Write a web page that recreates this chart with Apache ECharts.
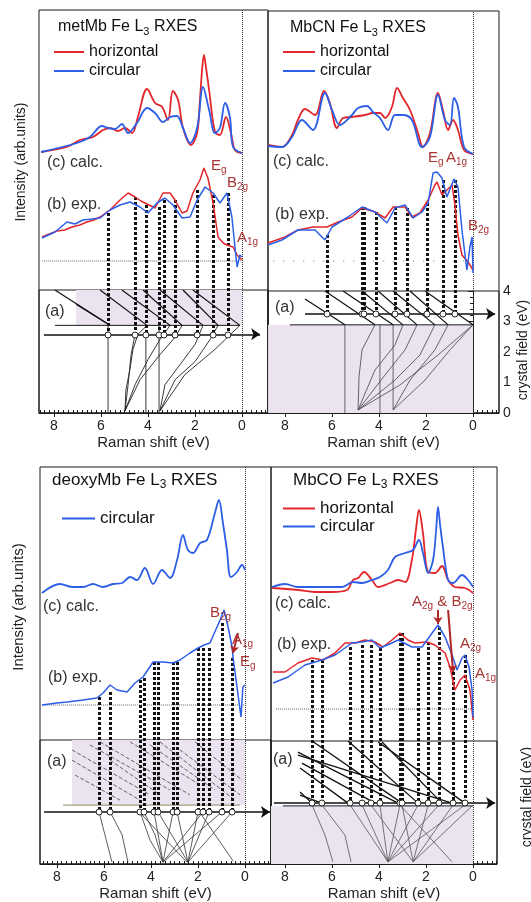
<!DOCTYPE html>
<html><head><meta charset="utf-8">
<script src="https://cdn.jsdelivr.net/npm/echarts@6/dist/echarts.min.js"></script>
<style>html,body{margin:0;padding:0;background:#fff}#c{width:531px;height:902px}</style>
</head><body><div id="c"></div>
<script>
// ================= DATA =================
const ramanTicks = [0, 2, 4, 6, 8];

// ---- metMb (top-left) : [Raman shift eV, intensity arb] ----
const metMb_calc_h = [[8.55,261],[7.45,266],[6.89,273],[6.34,276],[5.91,283],[5.62,285],[5.28,282],[4.98,285],[4.68,280],[4.43,296],[4.04,324],[3.70,310],[3.40,306],[3.15,293],[2.94,322],[2.72,313],[2.51,285],[2.17,268],[1.91,280],[1.79,313],[1.70,343],[1.62,358],[1.53,345],[1.40,323],[1.15,281],[0.94,278],[0.68,296],[0.47,280],[0.30,263],[0,260]];
const metMb_calc_c = [[8.55,261],[7.02,270],[6.47,276],[5.96,287],[5.70,285],[5.40,284],[5.11,289],[4.85,280],[4.47,290],[4.04,305],[3.70,300],[3.36,291],[3.06,296],[2.77,297],[2.51,285],[2.21,270],[1.91,285],[1.66,326],[1.40,303],[1.15,280],[0.94,285],[0.72,310],[0.51,295],[0.38,266],[0,260]];
const metMb_exp_h = [[8.51,176],[8.2,179],[7.87,182],[7.55,183],[7.23,186],[6.9,188],[6.60,191],[6.3,193],[6.04,196],[5.62,203],[5.19,213],[4.85,220],[4.55,216],[4.3,212],[4.04,209],[3.70,205],[3.36,220],[3.06,220],[2.85,213],[2.55,200],[2.34,202],[2.09,220],[1.79,233],[1.62,245],[1.45,235],[1.23,210],[1.02,176],[0.8,170],[0.64,168],[0.38,166],[0.21,158],[0,153]];
const metMb_exp_c = [[8.51,175],[7.96,181],[7.45,191],[7.11,189],[6.77,193],[6.38,194],[6.04,195],[5.62,203],[5.19,208],[4.77,211],[4.34,206],[4.00,200],[3.62,210],[3.28,215],[2.94,208],[2.55,195],[2.21,196],[1.91,213],[1.57,226],[1.23,220],[0.94,210],[0.64,220],[0.43,196],[0.30,166],[0.21,146],[0.09,158],[0,156]];
const metMb_baseline = [[8.5,152],[0,152]];
const metMb_drops = [[5.70,200],[4.55,216],[4.09,208],[3.53,206],[3.32,213],[2.85,213],[1.91,223],[1.23,218],[0.60,220]];
const metMb_dropBase = 78;
// diagram (a): [Raman shift eV, crystal field eV]
const metMb_arrow = [[8.43,2.56],[-0.77,2.56]];
const metMb_level = [[7.96,2.85],[0.09,2.85]];
const metMb_shade = [[7.06,2.85],[0,4]];
const metMb_upper = [
 [[7.96,4.0],[5.62,2.85]], [[7.06,3.54],[5.62,2.85]], [[6.04,4.0],[4.04,2.85]], [[5.11,4.0],[3.06,2.85]],
 [[4.21,4.0],[2.55,2.85]], [[3.49,4.0],[1.66,2.85]], [[2.51,4.0],[1.02,2.85]], [[2.09,4.0],[0.09,2.85]]
];
const metMb_lower = [
 [[5.70,2.85],[5.70,0]], [[4.09,2.56],[4.09,0]], [[3.53,2.85],[3.53,0]],
 [[4.98,0.07],[4.94,0.75],[4.77,1.41],[4.64,2.07],[4.43,2.56],[4.04,2.85]],
 [[4.98,0.07],[4.55,0.92],[4.0,1.74],[3.49,2.39],[3.06,2.85]],
 [[4.98,0.07],[4.34,1.08],[3.49,1.90],[2.85,2.46],[2.55,2.85]],
 [[3.49,0.07],[3.28,0.92],[2.64,1.57],[2.0,2.23],[1.66,2.85]],
 [[3.49,0.07],[2.85,1.08],[2.0,1.67],[1.36,2.39],[1.02,2.85]],
 [[3.49,0.07],[2.43,1.25],[1.15,2.07],[0.09,2.85]],
 [[4.98,0.07],[4.85,0.9],[4.72,1.9],[4.55,2.56]]
];

// ---- MbCN (top-right) ----
const mbcn_calc_h = [[8.72,268],[8.13,266],[7.70,278],[7.45,293],[7.15,304],[6.72,298],[6.34,322],[6.09,310],[5.79,285],[5.53,295],[5.15,296],[4.60,298],[4.26,300],[3.96,300],[3.74,295],[3.45,306],[3.23,325],[2.98,315],[2.68,303],[2.34,280],[2.13,266],[1.83,280],[1.49,320],[1.28,303],[1.06,283],[0.85,293],[0.64,283],[0.38,263],[0,259]];
const mbcn_calc_c = [[8.72,267],[8.13,266],[7.70,276],[7.28,293],[6.81,283],[6.30,320],[6.0,303],[5.66,288],[5.15,298],[4.89,305],[4.51,307],[4.26,301],[3.96,295],[3.62,283],[3.32,298],[2.98,298],[2.60,293],[2.17,266],[1.83,276],[1.49,318],[1.19,293],[0.98,288],[0.81,315],[0.64,306],[0.38,266],[0,259]];
const mbcn_exp_h = [[8.72,170],[8.0,176],[7.45,183],[6.81,186],[6.21,186],[5.74,191],[5.15,196],[4.72,205],[4.17,201],[3.74,195],[3.40,206],[2.89,206],[2.60,196],[2.26,200],[1.91,213],[1.62,228],[1.53,231],[1.32,218],[1.11,223],[0.89,228],[0.77,208],[0.64,178],[0.47,158],[0.21,151],[0,143]];
const mbcn_exp_c = [[8.72,168],[8.13,173],[7.45,183],[6.72,183],[6.30,173],[6.0,186],[5.32,196],[4.72,206],[4.17,201],[3.66,190],[3.32,205],[2.89,208],[2.55,195],[2.17,201],[1.91,210],[1.70,240],[1.53,241],[1.32,235],[1.11,216],[0.81,234],[0.64,226],[0.47,183],[0.26,143],[0.13,166],[0.04,176],[0,140]];
const mbcn_baseline = [[8.5,152],[0,152]];
const mbcn_drops = [[6.21,178],[4.72,206],[4.64,206],[4.13,201],[3.32,206],[2.81,205],[1.96,210],[1.28,233],[0.77,233]];
const mbcn_dropBase = 99;
const mbcn_arrow = [[7.15,3.25],[-0.94,3.25]];
const mbcn_level = [[7.79,2.89],[0,2.89]];
const mbcn_shade = [[8.72,0],[0,2.89]];
const mbcn_upper = [
 [[7.15,3.74],[5.45,2.89]], [[6.30,4.0],[4.17,2.89]], [[5.53,4.0],[3.40,2.89]], [[4.72,4.0],[2.98,2.89]],
 [[4.04,4.0],[2.38,2.89]], [[3.40,4.0],[1.62,2.89]], [[2.68,4.0],[1.06,2.89]], [[2.04,4.0],[0,2.89]]
];
const mbcn_lower = [
 [[5.45,2.89],[5.45,0]], [[3.96,2.89],[3.96,0]], [[3.40,2.89],[3.40,0.1]],
 [[4.89,0.1],[4.85,1.2],[4.72,2.07],[4.17,2.89]],
 [[4.89,0.1],[4.17,1.41],[3.32,2.23],[2.98,2.89]],
 [[4.89,0.1],[3.74,1.25],[2.89,2.07],[2.38,2.89]],
 [[4.89,0.1],[3.32,1.08],[2.26,1.90],[1.62,2.89]],
 [[3.40,0.1],[2.68,1.08],[1.62,2.07],[1.06,2.89]],
 [[3.40,0.1],[2.04,1.08],[0.98,2.07],[0,2.89]],
 [[4.89,0.1],[3.11,0.92],[1.49,1.90],[0,2.89]]
];

// ---- deoxyMb (bottom-left) ----
const deoxy_calc_c = [[8.64,271],[7.87,280],[7.36,277],[6.89,277],[6.47,280],[6.04,277],[5.62,280],[5.23,281],[4.89,287],[4.60,284],[4.26,296],[3.91,280],[3.53,294],[3.19,286],[2.89,304],[2.64,329],[2.43,314],[2.21,311],[1.91,321],[1.62,324],[1.28,351],[1.11,364],[0.94,341],[0.77,314],[0.60,287],[0.34,292],[0.13,299],[0,294]];
const deoxy_exp_c = [[8.64,159],[8.0,161],[7.57,162],[6.89,164],[6.30,166],[6.04,171],[5.74,179],[5.45,174],[5.02,172],[4.68,181],[4.34,187],[3.91,202],[3.49,202],[3.06,201],[2.77,204],[2.34,211],[2.0,216],[1.74,219],[1.49,221],[1.06,244],[0.89,254],[0.72,237],[0.55,217],[0.51,207],[0.34,177],[0.17,147],[0.09,177],[0,179]];
const deoxy_baseline = [[8.6,159],[0,159]];
const deoxy_drops = [[6.21,167],[5.74,172],[4.47,184],[4.30,186],[3.87,202],[3.70,202],[3.06,202],[2.89,202],[2.0,216],[1.79,216],[1.53,216],[0.98,241],[0.55,206]];
const deoxy_dropBase = 52;
const deoxy_arrow = [[8.55,1.68],[-1.06,1.68]];
const deoxy_level = [[7.74,1.90],[0.21,1.90]];
const deoxy_shade = [[7.36,1.90],[0,4]];
const deoxy_dashed = [
 [[7.36,3.68],[4.04,2.23]], [[7.36,3.35],[4.47,2.06]], [[7.23,2.87],[5.32,2.06]], [[6.60,3.84],[3.19,2.39]],
 [[6.17,3.94],[2.34,2.23]], [[4.89,3.94],[1.91,2.55]], [[4.04,3.84],[1.28,2.39]], [[3.62,3.94],[0.43,2.06]],
 [[2.77,3.68],[0.21,2.23]], [[5.74,3.35],[3.62,2.23]], [[2.13,3.94],[0.13,2.71]]
];
const deoxy_lower = [
 [[6.21,1.68],[5.96,0.94],[5.66,0.06]], [[5.74,1.68],[5.23,0.94],[4.98,0.06]],
 [[4.47,1.68],[4.04,0.77],[3.49,0.06]], [[4.30,1.68],[3.83,0.94],[3.49,0.06]],
 [[3.87,1.68],[3.49,0.06]], [[3.06,1.68],[3.49,0.06]], [[2.89,1.68],[2.43,0.06]], [[2.0,1.68],[2.43,0.06]],
 [[1.79,1.68],[3.49,0.06]], [[1.53,1.68],[2.43,0.06]], [[0.98,1.68],[3.49,0.06]], [[0.55,1.68],[2.43,0.06]],
 [[3.70,1.68],[2.43,0.06]], [[1.91,1.65],[0.51,0.1]], [[4.47,1.65],[2.47,0.06]]
];
const deoxy_notes = [[[0.30,231],[0.51,211]]];

// ---- MbCO (bottom-right) ----
const mbco_calc_h = [[8.55,276],[7.45,274],[6.72,272],[6.0,272],[5.36,274],[5.11,284],[4.89,286],[4.64,292],[4.30,284],[4.04,277],[3.53,281],[3.19,284],[2.89,282],[2.60,304],[2.43,334],[2.30,354],[2.13,331],[1.91,292],[1.62,291],[1.32,298],[1.06,284],[0.77,277],[0.34,276],[0,271]];
const mbco_calc_c = [[8.55,277],[8.0,280],[7.45,277],[6.30,277],[5.57,277],[5.11,282],[4.72,281],[4.30,284],[3.96,287],[3.62,294],[3.32,307],[2.89,311],[2.55,314],[2.30,324],[2.13,311],[1.91,291],[1.70,304],[1.57,334],[1.49,357],[1.40,339],[1.28,317],[1.06,284],[0.85,281],[0.47,289],[0.21,284],[0,277]];
const mbco_exp_h = [[8.51,192],[8.0,192],[7.45,201],[6.85,206],[6.38,204],[5.87,211],[5.45,221],[5.02,221],[4.60,224],[4.17,222],[3.83,217],[3.45,224],[3.11,231],[2.77,224],[2.47,221],[1.96,222],[1.62,219],[1.19,211],[0.98,197],[0.77,174],[0.55,184],[0.34,189],[0.13,174],[0,144]];
const mbco_exp_c = [[8.51,181],[7.87,187],[7.15,199],[6.43,204],[5.87,209],[5.15,221],[4.72,222],[4.30,224],[3.96,216],[3.45,221],[3.19,224],[2.60,217],[2.17,217],[1.74,231],[1.49,239],[1.19,227],[0.89,209],[0.68,194],[0.47,206],[0.34,209],[0.17,197],[0.04,174],[0,147]];
const mbco_baseline = [[8.38,155],[0,155]];
const mbco_drops = [[6.85,204],[6.43,204],[5.23,217],[4.72,219],[4.34,219],[3.96,216],[3.11,231],[3.02,231],[2.34,216],[1.91,222],[1.45,237],[0.85,197],[0.34,209]];
const mbco_dropBase = 61;
const mbco_arrow = [[8.47,1.98],[-0.94,1.98]];
const mbco_level = [[8.09,1.89],[0,1.89]];
const mbco_shade = [[8.6,0],[0,1.89]];
const mbco_upper = [
 [[7.45,3.64],[3.19,1.98]], [[7.45,3.54],[0.89,1.98]], [[7.28,3.28],[4.17,1.98]], [[7.36,3.12],[5.32,1.98]],
 [[7.36,2.34],[6.85,1.98]], [[7.36,2.24],[6.43,1.98]], [[6.85,4.0],[3.02,1.98]], [[5.32,4.0],[2.34,1.98]],
 [[4.04,3.97],[0.34,1.98]], [[3.87,3.97],[1.32,1.98]]
];
const mbco_lower = [
 [[6.85,1.92],[6.30,0.94],[5.96,0.07]], [[6.43,1.92],[5.45,0.94],[5.19,0.07]],
 [[5.23,1.92],[3.62,0.07]], [[4.72,1.92],[3.62,0.07]], [[4.34,1.92],[2.55,0.07]], [[3.96,1.92],[3.62,0.07]],
 [[3.11,1.92],[3.62,0.07]], [[3.02,1.92],[2.55,0.07]], [[2.34,1.92],[3.62,0.07]], [[1.91,1.92],[2.55,0.07]],
 [[1.45,1.92],[3.62,0.07]], [[0.85,1.92],[2.55,0.07]], [[0.34,1.92],[3.62,0.07]], [[0,1.92],[2.55,0.07]],
 [[3.11,1.92],[0.89,0.07]]
];
const mbco_notes = [[[1.49,254],[1.49,240]], [[1.06,254],[0.85,192]]];

// ================= LAYOUT / STYLE =================
const FONT = '"Liberation Sans", Arial, Helvetica, sans-serif';
const RED = '#e3262b', BLUE = '#2d5ee6', LBL = '#a83434', INK = '#1a1a1a';

const panels = [
 {left:39,  top:10,  w:229, h:403, sep:290, xMin:-1.106, xMax:8.638, cfAxis:true,  cfLabels:false},
 {left:268, top:11,  w:231, h:402, sep:291, xMin:-1.106, xMax:8.723, cfAxis:true,  cfLabels:true},
 {left:40,  top:467, w:231, h:397, sep:740, xMin:-1.106, xMax:8.723, cfAxis:false, cfLabels:false},
 {left:271, top:467, w:226, h:397, sep:741, xMin:-1.021, xMax:8.596, cfAxis:false, cfLabels:false}
];

const panelData = [
 {calcH:metMb_calc_h, calcC:metMb_calc_c, expH:metMb_exp_h, expC:metMb_exp_c, base:metMb_baseline, drops:metMb_drops, dropBase:metMb_dropBase,
  arrow:metMb_arrow, level:metMb_level, shade:metMb_shade,
  groups:[{lines:metMb_upper, color:'#111', width:1.2}, {lines:metMb_lower, color:'#222', width:0.9}]},
 {calcH:mbcn_calc_h, calcC:mbcn_calc_c, expH:mbcn_exp_h, expC:mbcn_exp_c, base:mbcn_baseline, baseType:[1,9], drops:mbcn_drops, dropBase:mbcn_dropBase,
  arrow:mbcn_arrow, level:mbcn_level, shade:mbcn_shade,
  groups:[{lines:mbcn_upper, color:'#111', width:1.2}, {lines:mbcn_lower, color:'#444', width:0.8}]},
 {calcC:deoxy_calc_c, expC:deoxy_exp_c, base:deoxy_baseline, drops:deoxy_drops, dropBase:deoxy_dropBase,
  arrow:deoxy_arrow, level:deoxy_level, levelColor:'#8c8c64', shade:deoxy_shade, notes:deoxy_notes,
  groups:[{lines:deoxy_dashed, color:'#444', width:0.8, type:[4,2]}, {lines:deoxy_lower, color:'#333', width:0.8}]},
 {calcH:mbco_calc_h, calcC:mbco_calc_c, expH:mbco_exp_h, expC:mbco_exp_c, base:mbco_baseline, drops:mbco_drops, dropBase:mbco_dropBase,
  arrow:mbco_arrow, level:mbco_level, shade:mbco_shade, notes:mbco_notes,
  groups:[{lines:mbco_upper, color:'#111', width:1.3}, {lines:mbco_lower, color:'#555', width:0.8}]}
];

function minorTicksFor(p){
  const out=[]; for (let k=Math.ceil(p.xMin/0.2); k*0.2<=p.xMax; k++) out.push(+(k*0.2).toFixed(1)); return out;
}

const grid=[], xAxis=[], yAxis=[];
panels.forEach((p,i)=>{
  grid.push({left:p.left, top:p.top, width:p.w, height:p.h, show:true, borderColor:INK, borderWidth:1});
  grid.push({left:p.left, top:p.sep, width:p.w, height:p.top+p.h-p.sep, show:true, borderColor:INK, borderWidth:1});
  xAxis.push({gridIndex:2*i, type:'value', min:p.xMin, max:p.xMax, inverse:true,
    axisLine:{show:true, lineStyle:{color:INK}},
    axisTick:{show:true, inside:true, length:3, customValues:minorTicksFor(p), lineStyle:{color:INK}},
    axisLabel:{show:false}, splitLine:{show:false}});
  xAxis.push({gridIndex:2*i+1, type:'value', min:p.xMin, max:p.xMax, inverse:true,
    axisLine:{show:false},
    axisTick:{show:true, inside:false, length:4, customValues:ramanTicks, lineStyle:{color:INK}},
    axisLabel:{show:true, customValues:ramanTicks, fontSize:14, color:'#222', fontFamily:FONT, margin:6},
    splitLine:{show:false},
    name:'Raman shift (eV)', nameLocation:'middle', nameGap:22, nameTextStyle:{fontSize:15, color:'#222', fontFamily:FONT}});
  yAxis.push({gridIndex:2*i, type:'value', min:0, max:p.h, show:false});
  if (p.cfLabels) {
    yAxis.push({gridIndex:2*i+1, type:'value', min:0, max:4, interval:1, position:'right',
      axisLine:{show:true, lineStyle:{color:INK}},
      axisTick:{show:true, inside:true, length:5, lineStyle:{color:INK}},
      minorTick:{show:true, splitNumber:5, length:3, lineStyle:{color:INK}},
      axisLabel:{show:true, fontSize:14, color:'#222', fontFamily:FONT, margin:4},
      splitLine:{show:false}});
  } else {
    yAxis.push({gridIndex:2*i+1, type:'value', min:0, max:4, show:false});
  }
});

function curve(name, data, idx, color, width, smooth){
  return {type:'line', name, data, xAxisIndex:idx, yAxisIndex:idx, symbol:'none', smooth, silent:true, z:7,
    lineStyle:{color, width}, itemStyle:{color}};
}

function buildSeries(i, d){
  const a=2*i, b=2*i+1, S=[];
  S.push({type:'line', xAxisIndex:b, yAxisIndex:b, data:d.level, symbol:'none', silent:true, z:2,
    lineStyle:{color:d.levelColor||INK, width:1},
    markArea:{silent:true, itemStyle:{color:'#ebe3f0'}, data:[[{coord:d.shade[0]},{coord:d.shade[1]}]]}});
  d.groups.forEach(g=>S.push({type:'lines', coordinateSystem:'cartesian2d', xAxisIndex:b, yAxisIndex:b, polyline:true, silent:true, z:3,
    lineStyle:{color:g.color, width:g.width, type:g.type||'solid', opacity:1, curveness:0}, data:g.lines.map(c=>({coords:c}))}));
  S.push({type:'lines', coordinateSystem:'cartesian2d', xAxisIndex:b, yAxisIndex:b, silent:true, z:4,
    symbol:['none','arrow'], symbolSize:9, lineStyle:{color:'#111', width:1.5, opacity:1}, data:[{coords:d.arrow}]});
  S.push({type:'line', xAxisIndex:a, yAxisIndex:a, data:d.base, symbol:'none', silent:true, z:2,
    lineStyle:{color:'#666', width:1, type:d.baseType||'dotted'},
    markLine:{silent:true, symbol:'none', label:{show:false}, lineStyle:{color:'#333', width:1, type:'dotted'}, data:[{xAxis:0}]}});
  S.push({type:'lines', coordinateSystem:'cartesian2d', xAxisIndex:a, yAxisIndex:a, silent:true, z:5,
    lineStyle:{color:'#111', width:3, type:[3,2], opacity:1},
    data:d.drops.map(p=>({coords:[[p[0],p[1]],[p[0],d.dropBase]]}))});
  S.push({type:'scatter', xAxisIndex:a, yAxisIndex:a, silent:true, z:6, symbol:'circle', symbolSize:6,
    itemStyle:{color:'#fff', borderColor:'#222', borderWidth:1, opacity:1}, data:d.drops.map(p=>[p[0],d.dropBase])});
  if (d.calcH) S.push(curve('horizontal', d.calcH, a, RED, 1.8, 0.35));
  S.push(curve('circular', d.calcC, a, BLUE, 1.8, 0.35));
  if (d.expH) S.push(curve('horizontal', d.expH, a, RED, 1.5, false));
  S.push(curve('circular', d.expC, a, BLUE, 1.5, false));
  (d.notes||[]).forEach(n=>S.push({type:'lines', coordinateSystem:'cartesian2d', xAxisIndex:a, yAxisIndex:a, silent:true, z:8,
    symbol:['none','arrow'], symbolSize:7, lineStyle:{color:'#b02525', width:2, opacity:1}, data:[{coords:n}]}));
  return S;
}

let series=[];
panelData.forEach((d,i)=>{ series = series.concat(buildSeries(i,d)); });

function txt(x, y, text, size, color, extra){
  const sub = Math.round(size*0.68);
  return Object.assign({type:'text', x, y, silent:true, z:100, style:{
    text, fill:color, font:'normal '+size+'px '+FONT, align:'left', verticalAlign:'middle', lineHeight:size+4,
    rich:{s:{fontSize:sub, fontFamily:FONT, fill:color, lineHeight:sub, verticalAlign:'bottom'}}}}, extra||{});
}

const graphic = [
 txt(58, 27, 'metMb Fe L{s|3} RXES', 16, '#111'),
 txt(290, 28, 'MbCN Fe L{s|3} RXES', 16, '#111'),
 txt(52, 480, 'deoxyMb Fe L{s|3} RXES', 17, '#111'),
 txt(293, 480, 'MbCO Fe L{s|3} RXES', 17, '#111'),
 txt(47, 163, '(c) calc.', 16, '#333'), txt(47, 205, '(b) exp.', 16, '#333'), txt(45, 312, '(a)', 16, '#333'),
 txt(273, 162, '(c) calc.', 16, '#333'), txt(275, 215, '(b) exp.', 16, '#333'), txt(275, 308, '(a)', 16, '#333'),
 txt(43, 607, '(c) calc.', 16, '#333'), txt(48, 678, '(b) exp.', 16, '#333'), txt(47, 762, '(a)', 16, '#333'),
 txt(275, 604, '(c) calc.', 16, '#333'), txt(277, 645, '(b) exp.', 16, '#333'), txt(273, 760, '(a)', 16, '#333'),
 // peak labels
 txt(211, 166, 'E{s|g}', 15, LBL), txt(227, 183, 'B{s|2g}', 15, LBL), txt(237, 238, 'A{s|1g}', 15, LBL),
 txt(428, 158, 'E{s|g}', 15, LBL), txt(446, 158, 'A{s|1g}', 15, LBL), txt(468, 226, 'B{s|2g}', 15, LBL),
 txt(210, 613, 'B{s|2g}', 15, LBL), txt(232, 640, 'A{s|1g}', 15, LBL), txt(240, 662, 'E{s|g}', 15, LBL),
 txt(412, 602, 'A{s|2g} & B{s|2g}', 15, LBL), txt(460, 644, 'A{s|2g}', 15, LBL), txt(475, 674, 'A{s|1g}', 15, LBL),
 // rotated axis titles
 {type:'text', x:21, y:162, rotation:Math.PI/2, silent:true, z:100, style:{text:'Intensity (arb.units)', fill:'#222', font:'14px '+FONT, align:'center', verticalAlign:'middle'}},
 {type:'text', x:19, y:607, rotation:Math.PI/2, silent:true, z:100, style:{text:'Intensity (arb.units)', fill:'#222', font:'15px '+FONT, align:'center', verticalAlign:'middle'}},
 {type:'text', x:523, y:350, rotation:Math.PI/2, silent:true, z:100, style:{text:'crystal field (eV)', fill:'#222', font:'14px '+FONT, align:'center', verticalAlign:'middle'}},
 {type:'text', x:527, y:797, rotation:Math.PI/2, silent:true, z:100, style:{text:'crystal field (eV)', fill:'#222', font:'14px '+FONT, align:'center', verticalAlign:'middle'}}
];

const legendBase = {orient:'vertical', icon:'rect', itemHeight:2, padding:0, selectedMode:false};
const legend = [
 Object.assign({}, legendBase, {data:['horizontal','circular'], left:54, top:44, itemWidth:30, itemGap:3, textStyle:{fontSize:16, color:'#111', fontFamily:FONT}}),
 Object.assign({}, legendBase, {data:['horizontal','circular'], left:283, top:44, itemWidth:32, itemGap:3, textStyle:{fontSize:16, color:'#111', fontFamily:FONT}}),
 Object.assign({}, legendBase, {data:['circular'], left:62, top:510, itemWidth:33, itemGap:2, textStyle:{fontSize:17, color:'#111', fontFamily:FONT}}),
 Object.assign({}, legendBase, {data:['horizontal','circular'], left:283, top:500, itemWidth:32, itemGap:1, textStyle:{fontSize:17, color:'#111', fontFamily:FONT}})
];

const chart = echarts.init(document.getElementById('c'), null, {renderer:'canvas'});
chart.setOption({animation:false, backgroundColor:'#fff', grid, xAxis, yAxis, series, legend, graphic});
</script>
</body></html>
